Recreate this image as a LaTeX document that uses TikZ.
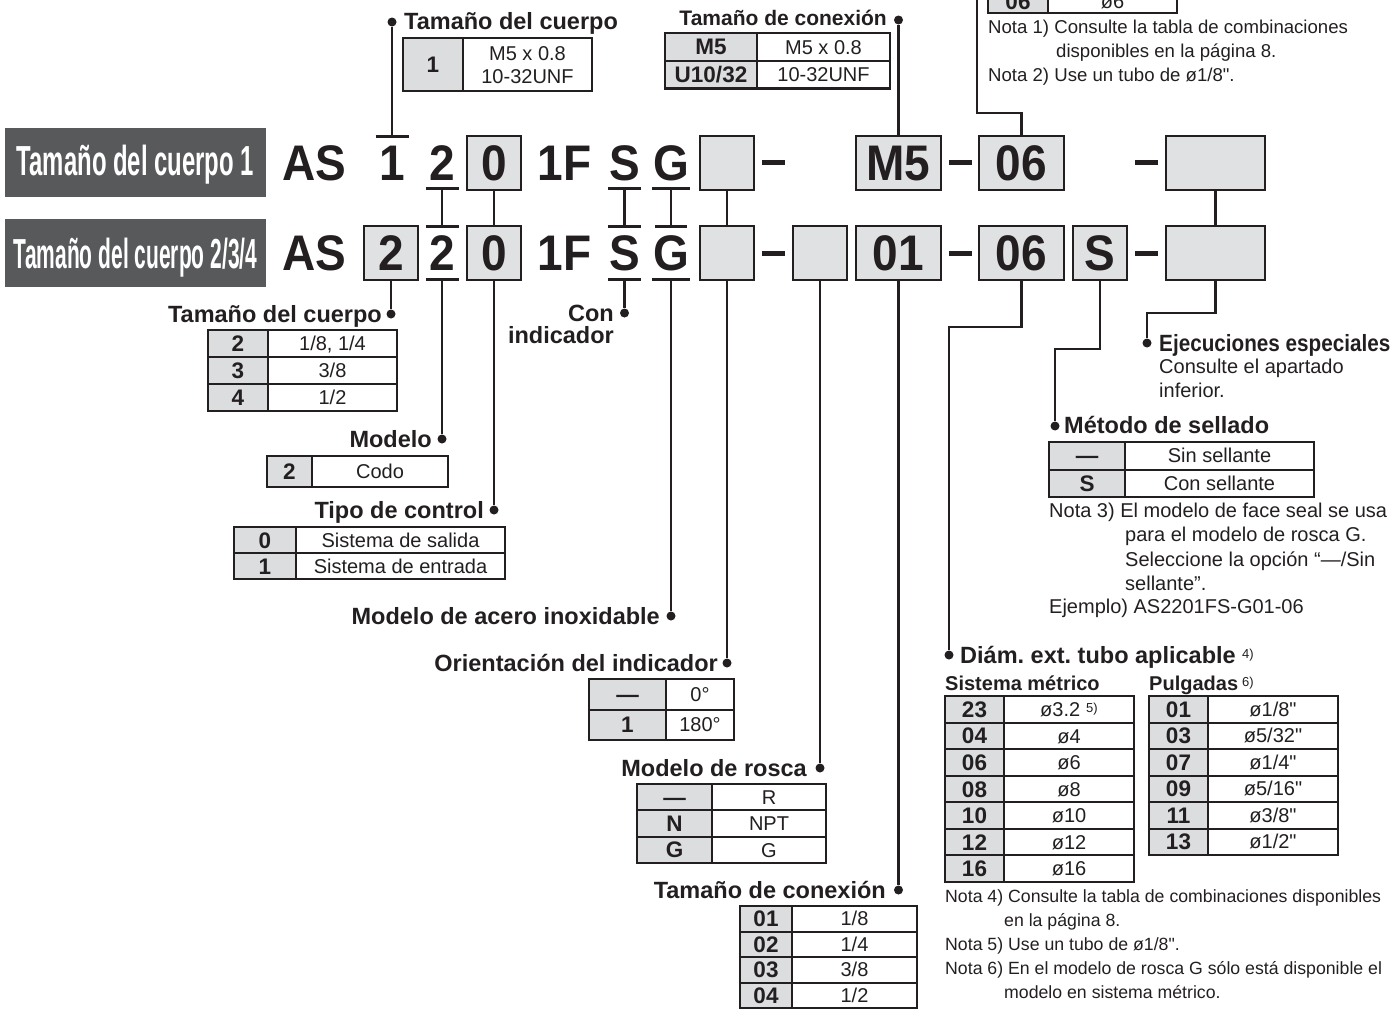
\documentclass[tikz,border=0pt]{standalone}
\usepackage{fontspec}
\usepackage{graphicx}
\setmainfont{Liberation Sans}
\newfontfamily\codefont[FakeStretch=0.92]{Liberation Sans}
\newfontfamily\plainfont{Liberation Sans}
\newcommand\strq{{\plainfont"}}
\frenchspacing
\definecolor{ink}{HTML}{231F20}
\definecolor{boxgray}{HTML}{E0E1E3}
\definecolor{cellgray}{HTML}{DCDDDF}
\definecolor{labelgray}{HTML}{58595B}
\tikzset{
 code/.style={font=\codefont\bfseries\fontsize{50}{50}\selectfont, text=ink, inner sep=0pt, text height=35.8pt, text depth=0pt},
 cbox/.style={draw=ink, line width=2pt, fill=boxgray, inner sep=0pt, minimum height=54pt},
 dashn/.style={fill=ink, inner sep=0pt, minimum width=23pt, minimum height=5pt},
 bar/.style={line width=3pt, draw=ink},
 conn/.style={line width=2.7pt, draw=ink},
 dot/.style={circle, fill=ink, inner sep=0pt, minimum size=9pt},
 head/.style={font=\bfseries\fontsize{23.5}{23.5}\selectfont, text=ink, inner sep=0pt},
 subhead/.style={font=\bfseries\fontsize{20}{20}\selectfont, text=ink, inner sep=0pt},
 reg/.style={font=\fontsize{20}{20}\selectfont, text=ink, inner sep=0pt},
 regtop/.style={font=\fontsize{18.6}{18.6}\selectfont, text=ink, inner sep=0pt},
 regbot/.style={font=\fontsize{17.7}{17.7}\selectfont, text=ink, inner sep=0pt},
 sup/.style={font=\fontsize{13}{13}\selectfont, text=ink, inner sep=0pt},
 lcell/.style={draw=ink, line width=2pt, fill=cellgray, inner sep=0pt, text=ink, font=\bfseries\fontsize{22.5}{22.5}\selectfont, text height=16pt, text depth=0pt},
 rcell/.style={draw=ink, line width=2pt, fill=white, inner sep=0pt, text=ink, font=\fontsize{20}{20}\selectfont, text height=14.3pt, text depth=0pt},
 rtxt/.style={inner sep=0pt, text=ink, font=\fontsize{20}{20}\selectfont, text height=14.3pt, text depth=0pt},
 frame/.style={draw=ink, line width=2.8pt},
 darkbox/.style={fill=labelgray, inner sep=0pt},
 darktext/.style={text=white, inner sep=0pt, font=\bfseries\fontsize{42}{42}\selectfont, text height=30pt, text depth=0pt},
}
% #1 name, #2 x0, #3 xdiv, #4 x1, #5 ytop, #6 ybottom, #7 left, #8 right
\newcommand\trow[8]{%
 \node[lcell, minimum width={(#3-#2)*1pt}, minimum height={(#6-#5)*1pt}] (#1l) at ({(#2+#3)/2},{(#5+#6)/2}) {#7};
 \node[rcell, minimum width={(#4-#3)*1pt}, minimum height={(#6-#5)*1pt}] (#1r) at ({(#3+#4)/2},{(#5+#6)/2}) {#8};
}
\begin{document}
\begin{tikzpicture}[x=1pt,y=-1pt]
\useasboundingbox (0,0) rectangle (1398,1009);

% ---------- dark row labels
\node[darkbox, minimum width=261pt, minimum height=69pt] (lab1) at (135.5,162.5) {};
\node[darktext] (lab1t) at (135.5,160.5) {\scalebox{0.569}[1]{Tamaño del cuerpo 1}};
\node[darkbox, minimum width=261pt, minimum height=68pt] (lab2) at (135.5,253) {};
\node[darktext] (lab2t) at (135.5,253) {\scalebox{0.5}[1]{Tamaño del cuerpo 2/3/4}};

% ---------- row 1
\node[code] (r1AS) at (314,163) {AS};
\node[code] (r1n1) at (392,163) {1};
\node[code] (r1n2) at (442,163) {2};
\node[cbox,code,minimum width=54pt] (r1b0) at (494,162.5) {0};
\node[code] (r1F) at (564.5,163) {1F};
\node[code] (r1S) at (624.5,163) {S};
\node[code] (r1G) at (671,163) {G};
\node[cbox,minimum width=54pt] (r1e1) at (727,162.5) {};
\node[dashn] (r1d1) at (773.5,162.5) {};
\node[cbox,code,minimum width=85pt] (r1M5) at (898.5,162.5) {M5};
\node[dashn] (r1d2) at (960.5,162.5) {};
\node[cbox,code,minimum width=85pt] (r1b06) at (1021.5,162.5) {06};
\node[dashn] (r1d3) at (1146.5,162.5) {};
\node[cbox,minimum width=99pt] (r1last) at (1215.5,162.5) {};

% ---------- row 2
\node[code] (r2AS) at (314,253) {AS};
\node[cbox,code,minimum width=54pt] (r2b2) at (391,253) {2};
\node[code] (r2n2) at (442,253) {2};
\node[cbox,code,minimum width=54pt] (r2b0) at (494,253) {0};
\node[code] (r2F) at (564.5,253) {1F};
\node[code] (r2S) at (624.5,253) {S};
\node[code] (r2G) at (671,253) {G};
\node[cbox,minimum width=54pt] (r2e1) at (727,253) {};
\node[dashn] (r2d1) at (773.5,253) {};
\node[cbox,minimum width=54pt] (r2e2) at (820,253) {};
\node[cbox,code,minimum width=85pt] (r2b01) at (898.5,253) {01};
\node[dashn] (r2d2) at (960.5,253) {};
\node[cbox,code,minimum width=85pt] (r2b06) at (1021.5,253) {06};
\node[cbox,code,minimum width=54pt] (r2bS) at (1100,253) {S};
\node[dashn] (r2d3) at (1146.5,253) {};
\node[cbox,minimum width=99pt] (r2last) at (1215.5,253) {};

% ---------- bars
\coordinate (b1top) at (392,136);
\coordinate (b1n2) at (442,188);
\coordinate (b1S) at (624.5,188);
\coordinate (b1G) at (671,188);
\coordinate (b2n2a) at (442,226);
\coordinate (b2Sa) at (624.5,226);
\coordinate (b2Ga) at (671,226);
\coordinate (b2n2b) at (442,279);
\coordinate (b2Sb) at (624.5,279);
\coordinate (b2Gb) at (671,279);
\foreach \c/\w in {b1top/16.5, b1n2/16.5, b1S/16.5, b1G/19, b2n2a/16.5, b2Sa/16.5, b2Ga/16, b2n2b/16.5, b2Sb/16.5, b2Gb/19}
  \draw[bar] ([xshift=-\w pt]\c) -- ([xshift=\w pt]\c);

% ---------- links between rows
\draw[conn] (b1n2) -- (b2n2a);
\draw[conn] (r1b0) -- (r2b0);
\draw[conn] (b1S) -- (b2Sa);
\draw[conn] (b1G) -- (b2Ga);
\draw[conn] (r1e1) -- (r2e1);
\draw[conn] (r1last) -- (r2last);

% ---------- dots
\node[dot] (dT1) at (392,22) {};
\node[dot] (dTC) at (898.5,20) {};
\node[dot] (dTam2) at (391,314) {};
\node[dot] (dMod) at (442,439) {};
\node[dot] (dTipo) at (494,510) {};
\node[dot] (dCon) at (624.5,313) {};
\node[dot] (dAce) at (671,616) {};
\node[dot] (dOri) at (727,663) {};
\node[dot] (dRos) at (820,768) {};
\node[dot] (dCnx) at (898.5,890) {};
\node[dot] (dEje) at (1147,343) {};
\node[dot] (dMet) at (1055,426) {};
\node[dot] (dDia) at (949,655) {};

% ---------- connectors
\draw[conn] (b1top) -- (dT1);
\draw[conn] (r1M5) -- (dTC);
\coordinate (j06) at (977,113);
\coordinate (top06) at (977,0);
\draw[conn] (r1b06.north) |- (j06) -- (top06);
\draw[conn] (r2b2) -- (dTam2);
\draw[conn] (b2n2b) -- (dMod);
\draw[conn] (r2b0) -- (dTipo);
\draw[conn] (b2Sb) -- (dCon);
\draw[conn] (b2Gb) -- (dAce);
\draw[conn] (r2e1) -- (dOri);
\draw[conn] (r2e2) -- (dRos);
\draw[conn] (r2b01) -- (dCnx);
\coordinate (k06) at (949,327);
\coordinate (kS) at (1055,349);
\coordinate (kL) at (1147,313);
\draw[conn] (r2b06.south) |- (k06) -- (dDia);
\draw[conn] (r2bS.south) |- (kS) -- (dMet);
\draw[conn] (r2last.south) |- (kL) -- (dEje);

% ---------- headings
\node[head, anchor=base west] (hT1) at (404,29.5) {Tamaño del cuerpo};
\node[head, anchor=base east, font=\bfseries\fontsize{21}{21}\selectfont] (hTC) at (887,25.5) {Tamaño de conexión};
\node[head, anchor=base east] (hT2) at (382,322) {Tamaño del cuerpo};
\node[head, anchor=base east] (hMod) at (432,447) {Modelo};
\node[head, anchor=base east] (hTipo) at (484,518) {Tipo de control};
\node[head, anchor=base east] (hCon) at (614,321) {Con};
\node[head, anchor=base east] (hInd) at (614,343) {indicador};
\node[head, anchor=base east] (hAce) at (660,624) {Modelo de acero inoxidable};
\node[head, anchor=base east] (hOri) at (718,671) {Orientación del indicador};
\node[head, anchor=base east] (hRos) at (807,776) {Modelo de rosca};
\node[head, anchor=base east] (hCnx) at (886,898) {Tamaño de conexión};
\node[head, anchor=base west] (hEje) at (1159,351) {\scalebox{0.88}[1]{Ejecuciones especiales}};
\node[head, anchor=base west] (hMet) at (1064,433) {Método de sellado};
\node[head, anchor=base west] (hDia) at (960,663) {Diám. ext. tubo aplicable};
\node[sup, anchor=base west] (sDia) at (1242,658) {4)};
\node[subhead, anchor=base west] (hMetr) at (945,690) {Sistema métrico};
\node[subhead, anchor=base west] (hPul) at (1149,690) {Pulgadas};
\node[sup, anchor=base west] (sPul) at (1242,686) {6)};

% ---------- tables
% top-left: body size 1
\trow{tA}{403}{463}{592}{38}{91}{1}{}
\node[rtxt] (tAr1) at (527.5,53) {M5 x 0.8};
\node[rtxt] (tAr2) at (527.5,76.5) {10-32UNF};
\draw[frame] (403,38) rectangle (592,91);

% top: port size
\trow{tB1}{665}{757}{890}{33}{60.7}{M5}{M5 x 0.8}
\trow{tB2}{665}{757}{890}{60.7}{88.3}{U10/32}{10-32UNF}
\draw[frame] (665,33) rectangle (890,88.3);

% top-right table, cut by the upper edge
\begin{scope}
\clip (0,0) rectangle (1398,1009);
\trow{tZ}{988}{1048}{1177}{-10}{13}{06}{ø6}
\draw[frame] (988,-10) rectangle (1177,13);
\end{scope}

% body size 2/3/4
\trow{tC1}{208}{268}{397}{330}{357}{2}{1/8, 1/4}
\trow{tC2}{208}{268}{397}{357}{384}{3}{3/8}
\trow{tC3}{208}{268}{397}{384}{411}{4}{1/2}
\draw[frame] (208,330) rectangle (397,411);

% model
\trow{tD1}{267}{312}{448}{456}{487}{2}{Codo}
\draw[frame] (267,456) rectangle (448,487);

% control type
\trow{tE1}{234}{296}{505}{527}{553}{0}{Sistema de salida}
\trow{tE2}{234}{296}{505}{553}{579}{1}{Sistema de entrada}
\draw[frame] (234,527) rectangle (505,579);

% indicator orientation
\trow{tF1}{589}{666}{734}{679}{709.5}{—}{0°}
\trow{tF2}{589}{666}{734}{709.5}{740}{1}{180°}
\draw[frame] (589,679) rectangle (734,740);

% thread type
\trow{tG1}{637}{712}{826}{784}{810.3}{—}{R}
\trow{tG2}{637}{712}{826}{810.3}{836.7}{N}{NPT}
\trow{tG3}{637}{712}{826}{836.7}{863}{G}{G}
\draw[frame] (637,784) rectangle (826,863);

% port size bottom
\trow{tH1}{740}{792}{917}{906}{931.5}{01}{1/8}
\trow{tH2}{740}{792}{917}{931.5}{957}{02}{1/4}
\trow{tH3}{740}{792}{917}{957}{982.5}{03}{3/8}
\trow{tH4}{740}{792}{917}{982.5}{1008}{04}{1/2}
\draw[frame] (740,906) rectangle (917,1008);

% sealing
\trow{tI1}{1049}{1125}{1314}{442}{469.5}{—}{Sin sellante}
\trow{tI2}{1049}{1125}{1314}{469.5}{497}{S}{Con sellante}
\draw[frame] (1049,442) rectangle (1314,497);

% metric
\trow{tJ1}{945}{1004}{1134}{696}{722.6}{23}{ø3.2\hspace{6pt}\raisebox{4pt}{\fontsize{13}{13}\selectfont 5)}}
\trow{tJ2}{945}{1004}{1134}{722.6}{749.1}{04}{ø4}
\trow{tJ3}{945}{1004}{1134}{749.1}{775.7}{06}{ø6}
\trow{tJ4}{945}{1004}{1134}{775.7}{802.3}{08}{ø8}
\trow{tJ5}{945}{1004}{1134}{802.3}{828.9}{10}{ø10}
\trow{tJ6}{945}{1004}{1134}{828.9}{855.4}{12}{ø12}
\trow{tJ7}{945}{1004}{1134}{855.4}{882}{16}{ø16}
\draw[frame] (945,696) rectangle (1134,882);

% inch
\trow{tK1}{1149}{1208}{1338}{696}{722.5}{01}{ø1/8\strq}
\trow{tK2}{1149}{1208}{1338}{722.5}{749}{03}{ø5/32\strq}
\trow{tK3}{1149}{1208}{1338}{749}{775.5}{07}{ø1/4\strq}
\trow{tK4}{1149}{1208}{1338}{775.5}{802}{09}{ø5/16\strq}
\trow{tK5}{1149}{1208}{1338}{802}{828.5}{11}{ø3/8\strq}
\trow{tK6}{1149}{1208}{1338}{828.5}{855}{13}{ø1/2\strq}
\draw[frame] (1149,696) rectangle (1338,855);

% ---------- notes
\node[regtop, anchor=base west] (n1a) at (988,33) {Nota 1) Consulte la tabla de combinaciones};
\node[regtop, anchor=base west] (n1b) at (1056,57) {disponibles en la página 8.};
\node[regtop, anchor=base west] (n2) at (988,81.5) {Nota 2) Use un tubo de ø1/8\strq.};

\node[reg, anchor=base west] (e1) at (1159,373) {Consulte el apartado};
\node[reg, anchor=base west] (e2) at (1159,397) {inferior.};

\node[reg, anchor=base west] (n3a) at (1049,517.5) {Nota 3) El modelo de face seal se usa};
\node[reg, anchor=base west] (n3b) at (1125,541.5) {para el modelo de rosca G.};
\node[reg, anchor=base west] (n3c) at (1125,566) {Seleccione la opción “—/Sin};
\node[reg, anchor=base west] (n3d) at (1125,590) {sellante”.};
\node[reg, anchor=base west] (n3e) at (1049,613) {Ejemplo) AS2201FS-G01-06};

\node[regbot, anchor=base west] (n4a) at (945,902) {Nota 4) Consulte la tabla de combinaciones disponibles};
\node[regbot, anchor=base west] (n4b) at (1004,926) {en la página 8.};
\node[regbot, anchor=base west] (n5) at (945,950.5) {Nota 5) Use un tubo de ø1/8\strq.};
\node[regbot, anchor=base west] (n6a) at (945,974) {Nota 6) En el modelo de rosca G sólo está disponible el};
\node[regbot, anchor=base west] (n6b) at (1004,998) {modelo en sistema métrico.};

\end{tikzpicture}
\end{document}
